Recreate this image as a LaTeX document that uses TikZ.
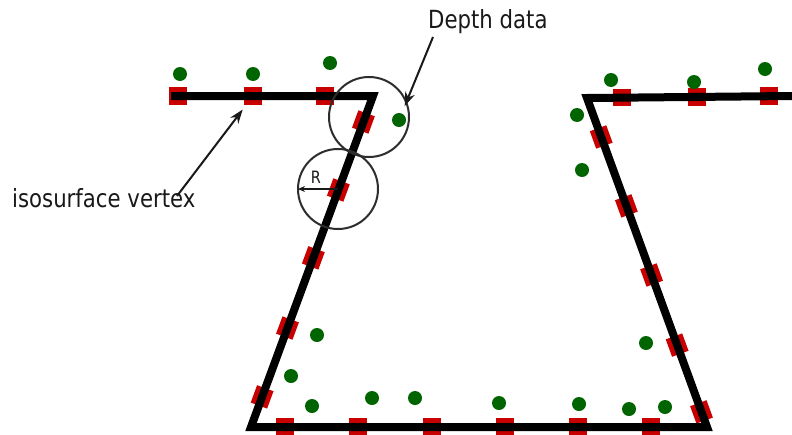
\documentclass[tikz,border=0pt]{standalone}
\usepackage{fontspec}
\newfontfamily\lblfont[FakeStretch=0.85]{DejaVu Sans}
\usetikzlibrary{arrows.meta}
\definecolor{mred}{RGB}{200,0,0}
\definecolor{mgreen}{RGB}{0,100,0}
\definecolor{cgray}{RGB}{45,45,45}
\definecolor{txt}{RGB}{25,25,25}
\begin{document}
\begin{tikzpicture}[x=1pt,y=-1pt,
  vmark/.style={rectangle,draw=none,fill=mred,minimum width=18.5pt,minimum height=17.5pt,inner sep=0pt,outer sep=0pt},
  dot/.style={circle,draw=none,fill=mgreen,minimum size=14pt,inner sep=0pt,outer sep=0pt},
  surface/.style={draw=black,line width=8pt},
  ring/.style={circle,draw=cgray,line width=2pt,minimum size=80pt,inner sep=0pt,outer sep=0pt},
  ptr/.style={draw=txt,line width=2pt,-{Stealth[length=14pt,width=10pt]}},
  rptr/.style={draw=txt,line width=1.3pt,-{Stealth[length=7pt,width=6pt]}},
  lbl/.style={text=txt,inner sep=0pt,font=\lblfont\fontsize{25}{29}\selectfont},
  rlbl/.style={text=txt,inner sep=0pt,font=\lblfont\fontsize{17}{20}\selectfont}]
\useasboundingbox[fill=white] (0,0) rectangle (792,434);
% polyline corners
\coordinate (P0) at (171,96);
\coordinate (P1) at (373,96);
\coordinate (P2) at (251,427);
\coordinate (P3) at (707,427);
\coordinate (P4) at (587,98);
\coordinate (P5) at (792,96);
% red isosurface vertices
\node[vmark] (m1) at (178,96) {};
\node[vmark] (m2) at (253,96) {};
\node[vmark] (m3) at (325,96) {};
\path (P1) -- node[vmark,sloped,pos=.0785] (m4) {}
              node[vmark,sloped,pos=.284] (m5) {}
              node[vmark,sloped,pos=.489] (m6) {}
              node[vmark,sloped,pos=.701] (m7) {}
              node[vmark,sloped,pos=.909] (m8) {} (P2);
\node[vmark] (m9) at (285,427) {};
\node[vmark] (m10) at (358,427) {};
\node[vmark] (m11) at (432,427) {};
\node[vmark] (m12) at (505,427) {};
\node[vmark] (m13) at (578,427) {};
\node[vmark] (m14) at (651,427) {};
\path (P4) -- node[vmark,sloped,pos=.1185] (m15) {}
              node[vmark,sloped,pos=.328] (m16) {}
              node[vmark,sloped,pos=.538] (m17) {}
              node[vmark,sloped,pos=.751] (m18) {}
              node[vmark,sloped,pos=.954] (m19) {} (P3);
\node[vmark] (m20) at (622,97.7) {};
\node[vmark] (m21) at (697,96.9) {};
\node[vmark] (m22) at (769,96.2) {};
% surface
\draw[surface] (P0) -- (P1) -- (P2) -- (P3) -- (P4) -- (P5);
% depth data points
\node[dot] (g1) at (180,74) {};
\node[dot] (g2) at (253,74) {};
\node[dot] (g3) at (330,63) {};
\node[dot] (g4) at (399,120) {};
\node[dot] (g5) at (611,80) {};
\node[dot] (g6) at (694,82) {};
\node[dot] (g7) at (765,69) {};
\node[dot] (g8) at (577,115) {};
\node[dot] (g9) at (582,170) {};
\node[dot] (g10) at (317,335) {};
\node[dot] (g11) at (291,376) {};
\node[dot] (g12) at (312,406) {};
\node[dot] (g13) at (372,398) {};
\node[dot] (g14) at (415,398) {};
\node[dot] (g15) at (499,403) {};
\node[dot] (g16) at (579,404) {};
\node[dot] (g17) at (629,409) {};
\node[dot] (g18) at (665,407) {};
\node[dot] (g19) at (646,343) {};
% radius circles
\node[ring] (c1) at (369,117) {};
\node[ring] (c2) at (338,189) {};
\draw[rptr] (c2.center) -- (c2.west);
\node[rlbl,anchor=base] (rl) at (316,183) {R};
% labels
\node[lbl,anchor=base west] (dd) at (428,28) {Depth data};
\node[lbl,anchor=base west] (iv) at (12,207) {isosurface vertex};
\coordinate (da) at (433,37);
\coordinate (ia) at (177,196);
\draw[ptr,shorten >=8pt] (da) -- (g4);
\draw[ptr,shorten >=6pt] (ia) -- (m2);
\end{tikzpicture}
\end{document}
